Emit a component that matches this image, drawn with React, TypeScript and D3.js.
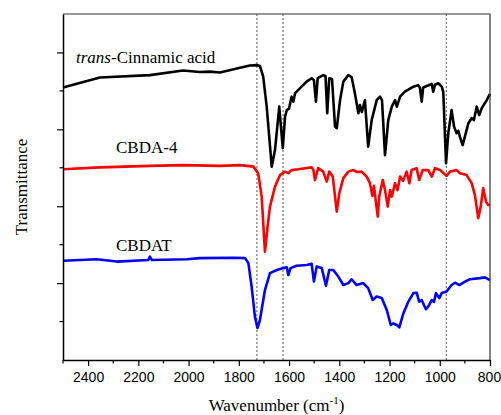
import React, { useRef, useEffect } from 'react'
import * as d3 from 'd3'

// [wavenumber (cm-1), transmittance (a.u., offset)]
const cinnamic: [number, number][] = [
  [2500, 7.09], [2353, 7.35], [2154, 7.41], [2022, 7.53], [1955, 7.49], [1915, 7.5],
  [1875, 7.48], [1795, 7.6], [1756, 7.66], [1728, 7.67], [1716, 7.65], [1703, 7.37],
  [1689, 6.59], [1669, 5.03], [1656, 5.46], [1639, 6.59], [1625, 5.51], [1616, 6.33],
  [1609, 6.5], [1600, 6.54], [1590, 6.85], [1583, 6.72], [1576, 6.94], [1556, 7.07],
  [1530, 7.24], [1510, 7.33], [1501, 7.28], [1493, 6.72], [1486, 7.33], [1464, 7.41],
  [1455, 7.39], [1448, 6.42], [1440, 7.33], [1429, 7.31], [1417, 6.07], [1410, 6.03],
  [1397, 6.76], [1384, 7.24], [1364, 7.41], [1351, 7.36], [1338, 6.94], [1324, 6.42],
  [1318, 6.63], [1310, 6.45], [1298, 6.76], [1285, 5.55], [1271, 6.24], [1251, 6.76],
  [1238, 6.85], [1230, 6.76], [1218, 5.33], [1205, 6.24], [1191, 6.59], [1178, 6.76],
  [1171, 6.59], [1158, 6.85], [1139, 6.98], [1105, 7.11], [1086, 7.15], [1079, 7.08],
  [1072, 6.72], [1066, 7.09], [1032, 7.18], [1026, 6.98], [1019, 7.16], [1006, 7.2],
  [992, 7.11], [986, 6.97], [975, 5.12], [966, 5.9], [953, 6.5], [943, 6.07],
  [933, 5.9], [926, 5.96], [920, 5.81], [909, 5.59], [900, 5.81], [886, 6.16],
  [873, 6.29], [864, 6.24], [853, 6.59], [843, 6.37], [833, 6.55], [813, 6.76],
  [800, 6.92],
]

const cbda4: [number, number][] = [
  [2500, 4.96], [2353, 5.01], [2154, 5.05], [2022, 5.07], [1875, 5.05], [1795, 5.07],
  [1742, 5.03], [1723, 4.86], [1709, 4.25], [1696, 2.82], [1687, 3.38], [1676, 3.99],
  [1656, 4.51], [1636, 4.81], [1616, 4.9], [1603, 4.86], [1590, 4.94], [1563, 4.96],
  [1510, 5.01], [1503, 4.94], [1497, 4.68], [1484, 4.99], [1464, 4.9], [1450, 4.64],
  [1440, 4.9], [1426, 4.77], [1410, 3.86], [1400, 4.34], [1384, 4.73], [1364, 4.9],
  [1344, 4.94], [1329, 4.89], [1311, 4.9], [1291, 4.77], [1278, 4.6], [1268, 4.27],
  [1262, 4.53], [1247, 3.73], [1241, 4.25], [1227, 4.68], [1218, 4.42], [1207, 3.99],
  [1198, 4.42], [1191, 4.25], [1178, 4.6], [1168, 4.42], [1158, 4.77], [1146, 4.66],
  [1132, 4.9], [1121, 4.6], [1112, 4.94], [1092, 4.99], [1082, 4.68], [1068, 4.94],
  [1046, 4.94], [1032, 4.77], [1019, 4.99], [999, 4.94], [973, 4.79], [959, 4.9],
  [933, 4.94], [920, 4.86], [893, 4.81], [873, 4.6], [860, 4.29], [847, 3.69],
  [837, 3.99], [827, 4.47], [816, 4.12], [807, 4.03], [800, 4.03],
]

const cbdat: [number, number][] = [
  [2500, 2.58], [2366, 2.62], [2286, 2.56], [2160, 2.6], [2154, 2.69], [2146, 2.6],
  [2008, 2.62], [1955, 2.65], [1822, 2.66], [1775, 2.65], [1762, 2.52], [1749, 1.91],
  [1736, 1.13], [1726, 0.83], [1716, 1.04], [1696, 1.82], [1676, 2.26], [1649, 2.34],
  [1623, 2.39], [1609, 2.41], [1603, 2.21], [1594, 2.39], [1570, 2.45], [1530, 2.47],
  [1510, 2.5], [1501, 2.04], [1490, 2.43], [1470, 2.39], [1453, 1.93], [1440, 2.34],
  [1424, 2.34], [1404, 2.17], [1384, 1.95], [1364, 2.0], [1351, 2.1], [1331, 1.95],
  [1305, 2.0], [1285, 1.87], [1267, 1.56], [1251, 1.65], [1231, 1.61], [1211, 1.3],
  [1195, 0.91], [1185, 0.95], [1171, 0.91], [1161, 0.85], [1145, 1.21], [1125, 1.52],
  [1105, 1.74], [1092, 1.75], [1082, 1.52], [1072, 1.56], [1055, 1.32], [1045, 1.4],
  [1032, 1.56], [1023, 1.51], [1015, 1.74], [1002, 1.61], [992, 1.74], [973, 1.78],
  [953, 1.95], [939, 2.01], [922, 1.95], [900, 2.04], [880, 2.1], [840, 2.13],
  [820, 2.15], [800, 2.08],
]

const series = [
  { name: 'cinnamic', data: cinnamic, color: '#000000' },
  { name: 'CBDA-4', data: cbda4, color: '#ff0000' },
  { name: 'CBDAT', data: cbdat, color: '#0000ff' },
]

const markers = [1728, 1624, 974]
const xMajor = [2400, 2200, 2000, 1800, 1600, 1400, 1200, 1000, 800]
const xMinor = [2500, 2300, 2100, 1900, 1700, 1500, 1300, 1100, 900]
const yMajor = [2, 4, 6, 8]
const yMinor = [1, 3, 5, 7]

export default function App() {
  const svgRef = useRef<SVGSVGElement>(null)

  useEffect(() => {
    if (!svgRef.current) return
    const W = 501
    const H = 415
    const margin = { top: 14, right: 11, bottom: 55, left: 63 }
    const width = W - margin.left - margin.right
    const height = H - margin.top - margin.bottom

    const svg = d3.select(svgRef.current)
    svg.selectAll('*').remove()
    svg.attr('width', W).attr('height', H)

    const g = svg.append('g').attr('transform', `translate(${margin.left},${margin.top})`)

    const x = d3.scaleLinear().domain([2500, 800]).range([0, width])
    const y = d3.scaleLinear().domain([0, 9]).range([height, 0])

    // dashed markers
    markers.forEach((m) => {
      g.append('line')
        .attr('x1', x(m)).attr('x2', x(m))
        .attr('y1', 0).attr('y2', height)
        .attr('stroke', '#555')
        .attr('stroke-width', 1)
        .attr('stroke-dasharray', '2,2')
    })

    const line = d3
      .line<[number, number]>()
      .x((d) => x(d[0]))
      .y((d) => y(d[1]))

    series.forEach((s) => {
      g.append('path')
        .datum(s.data)
        .attr('d', line)
        .attr('fill', 'none')
        .attr('stroke', s.color)
        .attr('stroke-width', 2.6)
        .attr('stroke-linejoin', 'round')
    })

    // frame (top/right)
    g.append('path')
      .attr('d', `M0,0H${width}V${height}`)
      .attr('fill', 'none')
      .attr('stroke', '#333')
      .attr('stroke-width', 1.2)

    const xAxis = g.append('g').attr('transform', `translate(0,${height})`)
    xAxis.call(
      d3.axisBottom(x).tickValues(xMajor).tickFormat(d3.format('d')).tickSize(6).tickSizeOuter(0).tickPadding(6)
    )
    xAxis.selectAll('.minor')
      .data(xMinor)
      .enter()
      .append('line')
      .attr('class', 'minor')
      .attr('x1', (d) => x(d)).attr('x2', (d) => x(d))
      .attr('y1', 0).attr('y2', 3.5)
      .attr('stroke', '#000')
      .attr('stroke-width', 1.2)
    xAxis.selectAll('text')
      .attr('font-family', '"Liberation Sans", Arial, sans-serif')
      .attr('font-size', 14)
      .attr('fill', '#000')
    // keep the last label inside the picture
    xAxis.selectAll<SVGTextElement, number>('.tick text')
      .filter((d) => d === 800)
      .attr('dx', -1)

    const yAxis = g.append('g')
    yAxis.call(d3.axisLeft(y).tickValues(yMajor).tickSize(6).tickSizeOuter(0).tickFormat(() => ''))
    yAxis.selectAll('.minor')
      .data(yMinor)
      .enter()
      .append('line')
      .attr('class', 'minor')
      .attr('x1', 0).attr('x2', -3.5)
      .attr('y1', (d) => y(d)).attr('y2', (d) => y(d))
      .attr('stroke', '#000')
      .attr('stroke-width', 1.2)

    svg.selectAll('.domain').attr('stroke', '#000').attr('stroke-width', 1.5)
    svg.selectAll('.tick line').attr('stroke', '#000').attr('stroke-width', 1.2)

    const serif = '"Liberation Serif", "Times New Roman", serif'

    // curve labels
    const lab1 = g.append('text')
      .attr('x', 76 - margin.left).attr('y', 63 - margin.top)
      .attr('font-family', serif).attr('font-size', 17)
    lab1.append('tspan').attr('font-style', 'italic').text('trans')
    lab1.append('tspan').text('-Cinnamic acid')

    g.append('text')
      .attr('x', 116 - margin.left).attr('y', 153 - margin.top)
      .attr('font-family', serif).attr('font-size', 17)
      .text('CBDA-4')

    g.append('text')
      .attr('x', 116 - margin.left).attr('y', 251 - margin.top)
      .attr('font-family', serif).attr('font-size', 17)
      .text('CBDAT')

    // axis titles
    const xt = svg.append('text')
      .attr('x', margin.left + width / 2).attr('y', 411)
      .attr('text-anchor', 'middle')
      .attr('font-family', serif).attr('font-size', 17)
    xt.append('tspan').text('Wavenumber (cm')
    xt.append('tspan').attr('dy', -7).attr('font-size', 11).text('-1')
    xt.append('tspan').attr('dy', 7).text(')')

    svg.append('text')
      .attr('transform', `translate(27,${margin.top + height / 2}) rotate(-90)`)
      .attr('text-anchor', 'middle')
      .attr('font-family', serif).attr('font-size', 17)
      .text('Transmittance')
  }, [])

  return (
    <div style={{ position: 'absolute', left: 0, top: 0, background: '#fff' }}>
      <svg ref={svgRef} style={{ display: 'block' }} />
    </div>
  )
}
